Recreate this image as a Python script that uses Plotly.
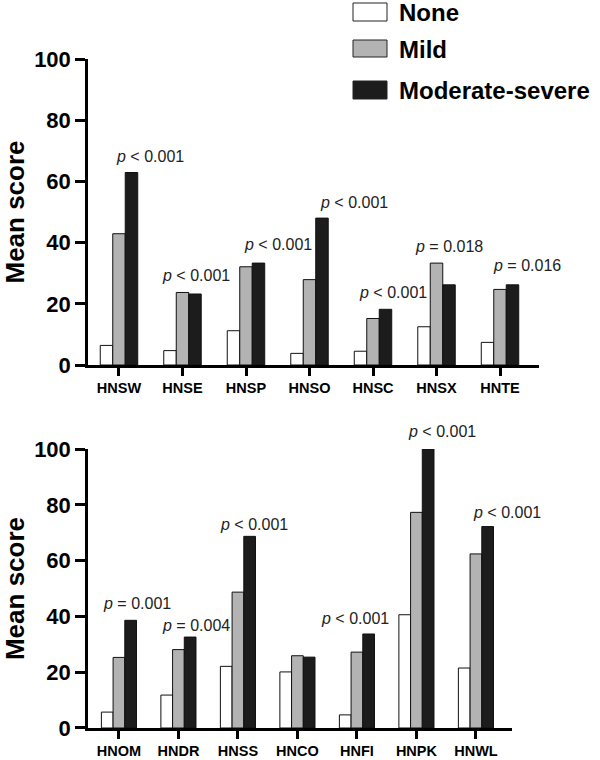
import plotly.graph_objects as go

# ---- data ----
cats_top = ["HNSW", "HNSE", "HNSP", "HNSO", "HNSC", "HNSX", "HNTE"]
none_top = [6.4, 4.7, 11.2, 3.8, 4.5, 12.5, 7.4]
mild_top = [42.9, 23.7, 32.1, 27.9, 15.2, 33.3, 24.7]
mod_top = [62.9, 23.2, 33.3, 48.0, 18.2, 26.2, 26.2]
p_top = ["< 0.001", "< 0.001", "< 0.001", "< 0.001", "< 0.001", "= 0.018", "= 0.016"]

cats_bot = ["HNOM", "HNDR", "HNSS", "HNCO", "HNFI", "HNPK", "HNWL"]
none_bot = [5.7, 11.8, 22.1, 20.1, 4.7, 40.6, 21.5]
mild_bot = [25.3, 28.1, 48.7, 25.9, 27.2, 77.3, 62.4]
mod_bot = [38.6, 32.6, 68.7, 25.4, 33.7, 100.0, 72.2]
p_bot = ["= 0.001", "= 0.004", "< 0.001", None, "< 0.001", "< 0.001", "< 0.001"]

series_names = ["None", "Mild", "Moderate-severe"]
y_ticks = [0, 20, 40, 60, 80, 100]
Y_MAX = 100

# ---- label placement (layout only) ----
p_top_dx = [0.49, 0.22, 0.50, 0.70, 0.31, 0.20, 0.43]
p_top_y = [68.1, 29.2, 39.3, 53.1, 23.8, 38.7, 32.6]
p_bot_dx = [0.30, 0.29, 0.27, 0.0, -0.03, 0.43, 0.53]
p_bot_y = [44.8, 36.7, 72.9, 0.0, 39.1, 106.3, 77.1]

colors = ["#ffffff", "#b3b3b3", "#1c1c1c"]
FONT = "Arial, Liberation Sans, sans-serif"

fig = go.Figure()
for vals, name, col in zip([none_top, mild_top, mod_top], series_names, colors):
    fig.add_trace(go.Bar(x=list(range(len(cats_top))), y=vals, name=name,
                         marker=dict(color=col, line=dict(color="#111", width=1)),
                         xaxis="x", yaxis="y", showlegend=False))
for vals, name, col in zip([none_bot, mild_bot, mod_bot], series_names, colors):
    fig.add_trace(go.Bar(x=list(range(len(cats_bot))), y=vals, name=name,
                         marker=dict(color=col, line=dict(color="#111", width=1)),
                         xaxis="x2", yaxis="y2", showlegend=False))

annotations = []
for i, p in enumerate(p_top):
    annotations.append(dict(x=i + p_top_dx[i], y=p_top_y[i] / Y_MAX, xref="x", yref="y domain",
                            text="<i>p</i> " + p.replace("<", "&lt;"), showarrow=False,
                            xanchor="center", yanchor="middle",
                            font=dict(family=FONT, size=16, color="#222")))
for i, p in enumerate(p_bot):
    if p is None:
        continue
    annotations.append(dict(x=i + p_bot_dx[i], y=p_bot_y[i] / Y_MAX, xref="x2", yref="y2 domain",
                            text="<i>p</i> " + p.replace("<", "&lt;"), showarrow=False,
                            xanchor="center", yanchor="middle",
                            font=dict(family=FONT, size=16, color="#222")))

# custom legend
W, H = 451.0, 669.0
def px_x(px):
    return (px - 88) / W
def px_y(py):
    return (728 - py) / H

shapes = []
leg_rows = [(3, 21), (40, 57), (81, 99)]
for (y0, y1), name, col in zip(leg_rows, series_names, colors):
    shapes.append(dict(type="rect", xref="paper", yref="paper",
                       x0=px_x(353), x1=px_x(387), y0=px_y(y1), y1=px_y(y0),
                       fillcolor=col, line=dict(color="#222", width=1)))
    annotations.append(dict(x=px_x(397), y=px_y((y0 + y1) / 2 + 1), xref="paper", yref="paper",
                            text=name, showarrow=False, xanchor="left", yanchor="middle",
                            font=dict(family=FONT, size=24, color="#000", weight="bold")))

axis_common = dict(showline=True, linecolor="black", linewidth=2.5, showgrid=False,
                   zeroline=False, ticks="outside", ticklen=10, tickwidth=2.5,
                   tickcolor="black", automargin=False)
xtickfont = dict(family=FONT, size=14.5, color="#000", weight="bold")

fig.update_layout(
    width=600, height=760,
    margin=dict(l=88, r=61, t=59, b=32, autoexpand=False),
    paper_bgcolor="white", plot_bgcolor="white",
    barmode="group", bargap=0.41, bargroupgap=0,
    hovermode=False,
    annotations=annotations, shapes=shapes,
    xaxis=dict(axis_common, domain=[0, 1], anchor="y", range=[-0.488, 6.614],
               ticklen=8,
               tickmode="array", tickvals=list(range(len(cats_top))), ticktext=cats_top,
               tickfont=xtickfont),
    yaxis=dict(axis_common, domain=[0.5426, 1], anchor="x", range=[0, Y_MAX],
               tickmode="array", tickvals=y_ticks,
               tickfont=dict(family=FONT, size=22, color="#000", weight="bold"),
               title=dict(text="Mean score", standoff=8,
                          font=dict(family=FONT, size=26, color="#000", weight="bold"))),
    xaxis2=dict(axis_common, domain=[0, 0.940], anchor="y2", range=[-0.52, 6.605],
                ticklen=8,
                tickmode="array", tickvals=list(range(len(cats_bot))), ticktext=cats_bot,
                tickfont=xtickfont),
    yaxis2=dict(axis_common, domain=[0, 0.417], anchor="x2", range=[0, Y_MAX],
                tickmode="array", tickvals=y_ticks,
                tickfont=dict(family=FONT, size=22, color="#000", weight="bold"),
                title=dict(text="Mean score", standoff=8,
                           font=dict(family=FONT, size=26, color="#000", weight="bold"))),
)

# remove the default 8px page margin so the 600x760 figure fills the window exactly
fig.write_html("out.html", config={"displayModeBar": False},
               post_script="document.body.style.margin='0';")
